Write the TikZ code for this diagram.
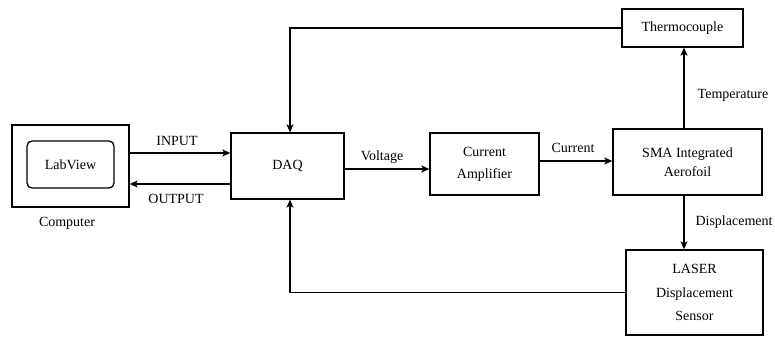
\documentclass[tikz,border=0pt]{standalone}
\usepackage{fontspec}
\setmainfont{Liberation Serif}
\usetikzlibrary{arrows.meta}
\begin{document}
\begin{tikzpicture}[x=1pt,y=-1pt,
  every node/.style={font=\fontsize{14}{22}\selectfont, inner sep=0pt},
  blk/.style={draw, line width=1.3pt, align=center},
  lbl/.style={anchor=center},
  conn/.style={line width=1.3pt, -{Stealth[length=8pt,width=7pt,inset=2pt]}},
  plain/.style={line width=1.3pt}]
\useasboundingbox (0,0) rectangle (775,337);
\node[blk, minimum width=117pt, minimum height=82pt] (comp) at (70.5,166) {};
\node[blk, rounded corners=5pt, minimum width=87pt, minimum height=47pt] (lab) at (70.5,164.5) {LabView};
\node[lbl] (complbl) at (67,223) {Computer};
\node[blk, minimum width=113pt, minimum height=66pt] (daq) at (287.5,166) {DAQ};
\node[blk, minimum width=109pt, minimum height=62pt] (amp) at (484.5,164) {Current\\Amplifier};
\node[blk, minimum width=149pt, minimum height=66pt] (sma) at (687.5,162) {SMA Integrated\\[-3pt]Aerofoil};
\node[blk, minimum width=121pt, minimum height=38pt] (thermo) at (682.5,28) {Thermocouple};
\node[blk, minimum width=137pt, minimum height=85pt] (laser) at (694.5,292.5) {LASER\\[1.5pt]Displacement\\[1.5pt]Sensor};
\coordinate (i1) at ([yshift=13pt]comp.east);
\coordinate (o1) at ([yshift=-18pt]comp.east);
\coordinate (v1) at ([yshift=-3pt]daq.east);
\coordinate (c1) at ([yshift=3pt]amp.east);
\coordinate (dx) at (684,0);
\coordinate (fbx) at (290,0);
\draw[conn] (i1) -- (i1 -| daq.west);
\draw[conn] (o1 -| daq.west) -- (o1);
\draw[conn] (v1) -- (v1 -| amp.west);
\draw[conn] (c1) -- (c1 -| sma.west);
\draw[conn] (dx |- sma.north) -- (dx |- thermo.south);
\draw[conn] (dx |- sma.south) -- (dx |- laser.north);
\draw[conn] (thermo.west) -| (fbx |- daq.north);
\draw[conn] (laser.west) -| (fbx |- daq.south);
\node[lbl] (inlbl) at (177,141) {INPUT};
\node[lbl] (outlbl) at (176,199) {OUTPUT};
\node[lbl] (vlbl) at (382,157) {Voltage};
\node[lbl] (clbl) at (573,148) {Current};
\node[lbl] (tlbl) at (733,95) {Temperature};
\node[lbl] (dlbl) at (734,222) {Displacement};
\end{tikzpicture}
\end{document}
